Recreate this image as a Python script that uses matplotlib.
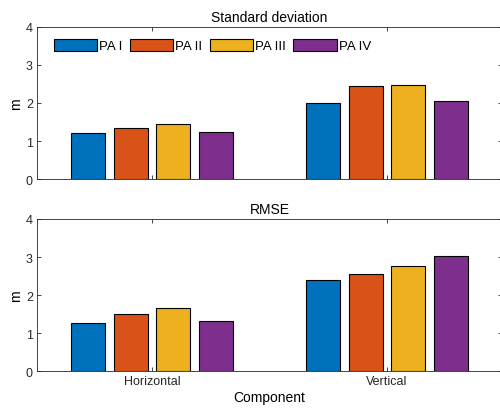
import numpy as np
import matplotlib.pyplot as plt

plt.rcParams['font.family'] = ['Liberation Sans', 'DejaVu Sans']

components = ['Horizontal', 'Vertical']
series = ['PA I', 'PA II', 'PA III', 'PA IV']
std_dev = {
    'PA I': [1.22, 2.00],
    'PA II': [1.33, 2.45],
    'PA III': [1.44, 2.48],
    'PA IV': [1.24, 2.06],
}
rmse = {
    'PA I': [1.28, 2.40],
    'PA II': [1.50, 2.55],
    'PA III': [1.65, 2.77],
    'PA IV': [1.33, 3.04],
}
colors = ['#0072BD', '#D95319', '#EDB120', '#7E2F8E']

fig = plt.figure(figsize=(5, 4.14), dpi=100)
ax1 = fig.add_axes([0.074, 0.565, 0.93, 0.368])
ax2 = fig.add_axes([0.074, 0.1007, 0.93, 0.368])

x = np.arange(1, len(components) + 1)
step = 0.727 / 4
width = step * 0.8

def draw(ax, data, title):
    for i, name in enumerate(series):
        ax.bar(x + (i - 1.5) * step, data[name], width, color=colors[i],
               edgecolor='black', linewidth=0.8, label=name)
    ax.set_xlim(0.51, 2.49)
    ax.set_ylim(0, 4)
    ax.set_yticks([0, 1, 2, 3, 4])
    ax.set_xticks(x)
    ax.set_title(title, fontsize=10, pad=4)
    ax.set_ylabel('m', fontsize=10, labelpad=2)
    ax.tick_params(direction='in', length=3, width=0.6, top=True, right=True,
                   labelsize=9, colors='#262626', pad=3)
    for s in ax.spines.values():
        s.set_color('#262626')
        s.set_linewidth(0.6)

draw(ax1, std_dev, 'Standard deviation')
ax1.set_xticklabels([])
draw(ax2, rmse, 'RMSE')
ax2.set_xticklabels(components)
ax2.set_xlabel('Component', fontsize=10, labelpad=2)

ax1.legend(loc='upper left', ncol=4, frameon=False, fontsize=9.5,
           handlelength=3.3, handleheight=1.05, columnspacing=0.55,
           handletextpad=0.15, bbox_to_anchor=(0.01, 1.0))

fig.savefig('out.png', dpi=100)
